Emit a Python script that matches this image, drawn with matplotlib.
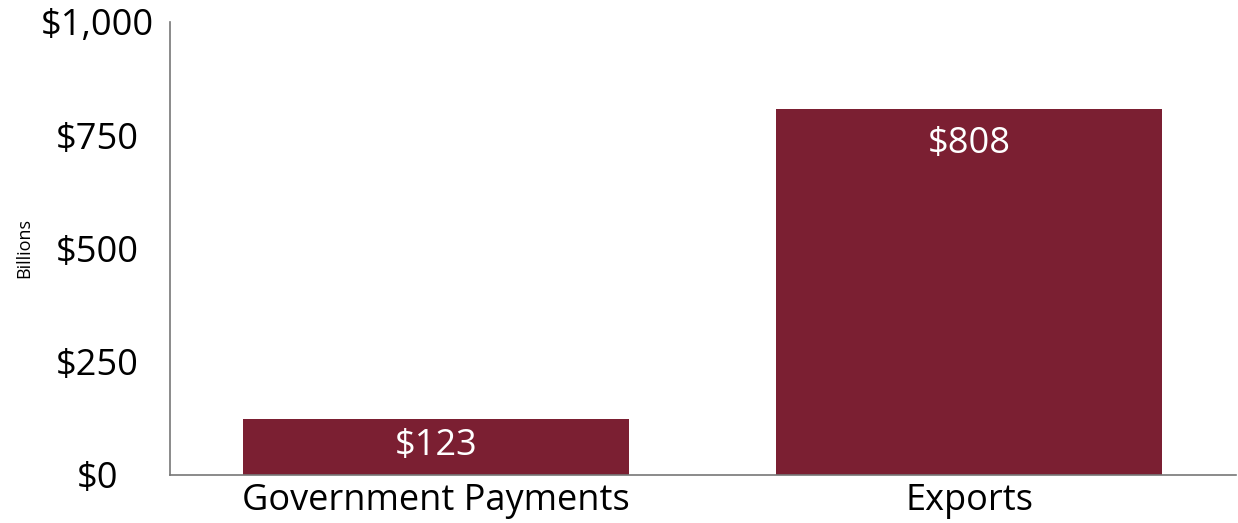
import numpy as np
import matplotlib.pyplot as plt

kategorien = ['Government Payments', 'Exports']
werte = [123, 808]
y_ticks = [0, 250, 500, 750, 1000]
y_labels = ['$0', '$250', '$500', '$750', '$1,000']

farbe = '#7B1F32'
plt.rcParams['font.family'] = ['Open Sans', 'DejaVu Sans']

fig = plt.figure(figsize=(12.38, 5.23), dpi=100)
ax = fig.add_axes([0.137, 0.092, 0.861, 0.866])

x = np.arange(len(kategorien))
bars = ax.bar(x, werte, width=0.725, color=farbe)

# Beschriftung in den Balken (kleiner Balken: eher mittig)
for b, v in zip(bars, werte):
    dy = -25 if v > 300 else -19
    ax.annotate(f'${v}', (b.get_x() + b.get_width() / 2, v), xytext=(0, dy),
                textcoords='offset points', ha='center', va='center',
                color='white', fontsize=26)

ax.set_xlim(-0.5, 1.5)
ax.set_ylim(0, 1000)
ax.set_xticks(x)
ax.set_xticklabels(kategorien, fontsize=26)
ax.set_yticks(y_ticks)
ax.set_yticklabels(y_labels, fontsize=26, ha='center')
ax.tick_params(length=0)
ax.tick_params(axis='x', pad=6)
ax.tick_params(axis='y', pad=52)
ax.set_ylabel('Billions', fontsize=13)
ax.yaxis.set_label_coords(-0.128, 0.5)

for s in ['top', 'right']:
    ax.spines[s].set_visible(False)
for s in ['left', 'bottom']:
    ax.spines[s].set_color('#777777')
    ax.spines[s].set_linewidth(1.2)

fig.savefig('out.png', dpi=100)
